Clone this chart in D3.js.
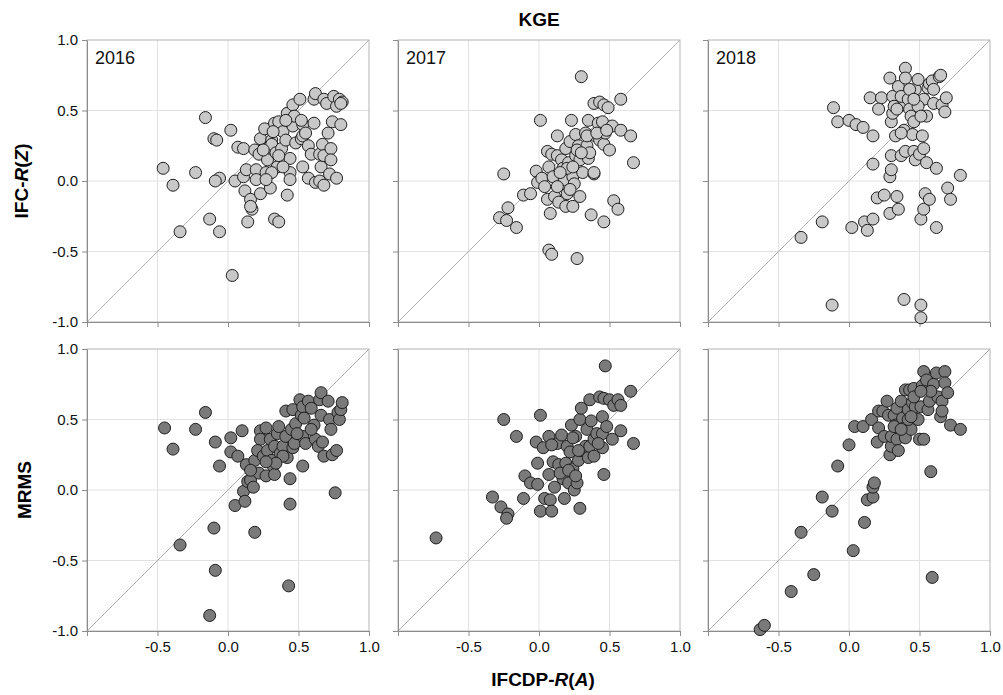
<!DOCTYPE html>
<html>
<head>
<meta charset="utf-8">
<script src="https://cdn.jsdelivr.net/npm/d3@7"></script>
<style>
  body { margin: 0; background: #fff; }
  text { font-family: "Liberation Sans", Arial, sans-serif; }
</style>
</head>
<body>
<script>
// data: one array of [IFCDP-R(A), y] pairs for every panel
var years = ["2016", "2017", "2018"];
var rowTitles = ["IFC-R(Z)", "MRMS"];
var colTitle = "KGE";
var tickValues = [-1, -0.5, 0, 0.5, 1];
var gridValues = [-0.5, 0, 0.5];

var kge2016 = [[-0.46,0.09],[-0.39,-0.03],[-0.34,-0.36],[-0.23,0.06],[-0.16,0.45],[-0.13,-0.27],[-0.10,0.30],[-0.08,0.29],[-0.06,0.02],[-0.09,0.00],[-0.06,-0.36],[0.02,0.36],[0.03,-0.67],[0.05,0.00],[0.07,0.24],[0.11,0.23],[0.11,0.03],[0.12,-0.07],[0.13,0.08],[0.14,-0.29],[0.16,-0.13],[0.17,-0.20],[0.16,-0.18],[0.19,0.22],[0.20,0.08],[0.20,0.01],[0.22,0.19],[0.23,-0.09],[0.23,0.30],[0.26,0.37],[0.27,0.06],[0.28,0.15],[0.29,0.24],[0.30,-0.05],[0.31,0.29],[0.31,0.26],[0.33,0.41],[0.33,-0.27],[0.36,-0.29],[0.36,0.42],[0.34,0.20],[0.35,0.10],[0.38,0.23],[0.39,0.35],[0.41,0.29],[0.42,0.48],[0.42,-0.10],[0.44,0.16],[0.44,0.06],[0.44,0.01],[0.46,0.54],[0.46,0.39],[0.47,0.46],[0.48,0.27],[0.51,0.58],[0.52,0.30],[0.53,0.40],[0.53,0.10],[0.53,0.32],[0.52,0.43],[0.55,0.34],[0.57,0.25],[0.57,0.02],[0.59,0.19],[0.61,0.41],[0.61,0.58],[0.62,0.62],[0.62,-0.01],[0.65,0.00],[0.65,0.19],[0.66,0.10],[0.67,0.26],[0.68,0.58],[0.68,-0.03],[0.68,0.18],[0.70,0.55],[0.71,0.34],[0.72,0.05],[0.73,0.23],[0.73,0.15],[0.74,0.42],[0.75,0.60],[0.77,0.53],[0.77,0.02],[0.79,0.58],[0.80,0.40],[0.81,0.56],[0.80,0.55],[0.36,0.18],[0.32,0.35],[0.41,0.43],[0.25,0.22],[0.39,0.10],[0.31,0.06],[0.27,0.01]];

var kge2017 = [[-0.25,0.05],[-0.22,-0.19],[-0.28,-0.26],[-0.23,-0.28],[-0.16,-0.33],[-0.11,-0.10],[-0.06,-0.09],[-0.02,0.07],[-0.01,-0.01],[0.02,0.02],[0.04,-0.04],[0.01,0.43],[0.06,0.21],[0.07,-0.49],[0.09,-0.52],[0.08,-0.23],[0.06,-0.13],[0.09,0.19],[0.07,0.10],[0.10,0.03],[0.11,-0.11],[0.13,0.32],[0.13,0.18],[0.14,-0.15],[0.16,0.15],[0.17,0.09],[0.18,0.01],[0.19,-0.18],[0.19,0.23],[0.20,-0.09],[0.21,0.13],[0.22,0.28],[0.23,0.43],[0.24,0.03],[0.24,-0.18],[0.25,-0.02],[0.26,0.18],[0.26,0.33],[0.29,-0.11],[0.27,-0.55],[0.28,0.25],[0.29,0.15],[0.30,0.74],[0.31,0.06],[0.33,0.34],[0.34,0.25],[0.35,0.16],[0.35,0.43],[0.36,0.20],[0.37,-0.24],[0.39,0.05],[0.40,0.32],[0.39,0.55],[0.42,0.41],[0.43,0.29],[0.43,0.56],[0.45,0.42],[0.46,-0.29],[0.46,0.26],[0.47,0.34],[0.46,0.54],[0.49,0.52],[0.50,0.22],[0.52,0.39],[0.53,-0.14],[0.56,-0.20],[0.58,0.58],[0.58,0.36],[0.65,0.32],[0.67,0.13],[0.20,0.09],[0.24,0.10],[0.15,0.06],[0.22,-0.06],[0.27,0.22],[0.30,0.20],[0.34,0.32],[0.41,0.34],[0.48,0.36],[0.39,0.06],[0.13,-0.04]];

var kge2018 = [[-0.34,-0.40],[-0.19,-0.29],[-0.12,-0.88],[-0.11,0.52],[-0.08,0.42],[0.00,0.43],[0.05,0.40],[0.10,0.38],[0.17,0.32],[0.02,-0.33],[0.11,-0.29],[0.13,-0.35],[0.17,-0.27],[0.17,0.12],[0.15,0.59],[0.20,-0.12],[0.23,0.59],[0.21,0.51],[0.25,-0.10],[0.29,-0.23],[0.29,0.03],[0.30,0.08],[0.30,0.18],[0.29,0.73],[0.30,0.42],[0.31,0.48],[0.31,0.60],[0.33,0.32],[0.34,-0.11],[0.35,-0.20],[0.35,0.67],[0.36,0.53],[0.37,0.18],[0.37,0.60],[0.39,0.36],[0.40,0.80],[0.39,-0.84],[0.40,0.73],[0.40,0.21],[0.42,0.58],[0.43,0.51],[0.44,0.46],[0.45,0.33],[0.46,0.21],[0.46,0.42],[0.47,0.65],[0.47,0.15],[0.49,0.72],[0.50,0.19],[0.51,-0.27],[0.51,-0.88],[0.51,-0.97],[0.52,0.32],[0.53,0.58],[0.53,-0.20],[0.53,0.23],[0.54,-0.09],[0.55,0.46],[0.56,0.66],[0.57,-0.13],[0.57,0.69],[0.55,0.13],[0.59,0.71],[0.60,0.55],[0.62,0.09],[0.62,-0.33],[0.64,0.74],[0.65,0.75],[0.66,0.54],[0.69,0.59],[0.68,0.49],[0.70,-0.05],[0.72,-0.13],[0.79,0.04],[0.49,0.53],[0.43,0.65],[0.32,0.53],[0.37,0.34],[0.46,0.58],[0.34,0.51],[0.60,0.65],[0.51,0.46]];

var mrms2016 = [[-0.45,0.44],[-0.39,0.29],[-0.34,-0.39],[-0.23,0.43],[-0.16,0.55],[-0.10,-0.27],[-0.09,0.34],[-0.09,-0.57],[-0.06,0.17],[-0.13,-0.89],[0.02,0.37],[0.02,0.27],[0.05,-0.11],[0.07,0.24],[0.10,0.42],[0.11,-0.01],[0.12,-0.08],[0.13,0.18],[0.14,0.06],[0.16,0.07],[0.18,0.02],[0.19,0.21],[0.19,-0.30],[0.22,0.12],[0.23,0.42],[0.23,0.36],[0.21,0.28],[0.25,0.24],[0.27,0.44],[0.27,0.10],[0.28,0.28],[0.30,0.36],[0.31,0.21],[0.32,0.17],[0.33,0.31],[0.33,0.11],[0.35,0.40],[0.36,0.45],[0.37,0.26],[0.39,0.31],[0.41,0.38],[0.41,0.56],[0.42,0.23],[0.44,0.08],[0.44,-0.10],[0.43,-0.68],[0.45,0.43],[0.46,0.30],[0.46,0.57],[0.47,0.33],[0.48,0.47],[0.51,0.64],[0.52,0.53],[0.53,0.59],[0.53,0.17],[0.53,0.38],[0.54,0.51],[0.55,0.33],[0.57,0.63],[0.59,0.58],[0.61,0.46],[0.62,0.36],[0.64,0.31],[0.65,0.64],[0.66,0.69],[0.66,0.53],[0.67,0.34],[0.68,0.24],[0.71,0.63],[0.72,0.50],[0.73,0.43],[0.74,0.25],[0.76,-0.02],[0.77,0.28],[0.78,0.55],[0.79,0.50],[0.80,0.57],[0.81,0.62],[0.39,0.24],[0.49,0.40],[0.59,0.43],[0.34,0.19],[0.27,0.20],[0.16,0.14]];

var mrms2017 = [[-0.73,-0.34],[-0.33,-0.05],[-0.27,-0.12],[-0.22,-0.17],[-0.23,-0.20],[-0.25,0.50],[-0.16,0.38],[-0.11,-0.06],[-0.10,0.10],[-0.06,0.05],[-0.02,0.34],[-0.01,0.19],[-0.01,0.04],[0.01,-0.15],[0.01,0.53],[0.03,0.30],[0.04,-0.06],[0.07,0.38],[0.07,0.11],[0.08,-0.07],[0.09,-0.15],[0.10,0.20],[0.11,0.02],[0.13,0.33],[0.14,0.18],[0.16,0.39],[0.17,0.08],[0.18,-0.06],[0.19,0.19],[0.20,0.31],[0.21,0.05],[0.22,0.27],[0.23,0.46],[0.24,0.15],[0.25,0.00],[0.26,0.38],[0.27,0.05],[0.28,0.21],[0.29,0.50],[0.29,-0.13],[0.30,0.58],[0.30,0.28],[0.33,0.31],[0.34,0.43],[0.35,0.23],[0.36,0.64],[0.36,0.31],[0.37,0.49],[0.39,0.36],[0.41,0.40],[0.43,0.66],[0.45,0.52],[0.45,0.40],[0.46,0.11],[0.45,0.30],[0.46,0.65],[0.47,0.88],[0.48,0.45],[0.50,0.64],[0.52,0.36],[0.53,0.60],[0.56,0.64],[0.58,0.42],[0.58,0.60],[0.65,0.70],[0.67,0.33],[0.15,0.12],[0.21,0.14],[0.26,0.10],[0.28,0.28],[0.39,0.24],[0.42,0.33],[0.24,0.37],[0.09,0.32]];

var mrms2018 = [[-0.63,-0.99],[-0.60,-0.96],[-0.41,-0.72],[-0.34,-0.30],[-0.25,-0.60],[-0.19,-0.05],[-0.12,-0.15],[-0.08,0.17],[0.00,0.32],[0.03,-0.43],[0.04,0.45],[0.10,0.45],[0.11,-0.23],[0.13,-0.07],[0.16,0.50],[0.17,-0.05],[0.17,0.02],[0.18,0.05],[0.21,0.44],[0.20,0.34],[0.21,0.56],[0.24,0.56],[0.25,0.38],[0.27,0.63],[0.28,0.53],[0.29,0.25],[0.30,0.31],[0.30,0.38],[0.32,0.53],[0.33,0.46],[0.34,0.36],[0.35,0.28],[0.34,0.58],[0.37,0.63],[0.38,0.51],[0.39,0.44],[0.40,0.37],[0.40,0.71],[0.42,0.57],[0.43,0.71],[0.44,0.43],[0.45,0.62],[0.46,0.72],[0.47,0.59],[0.49,0.50],[0.50,0.36],[0.51,0.59],[0.52,0.74],[0.53,0.84],[0.53,0.36],[0.55,0.78],[0.56,0.57],[0.57,0.63],[0.58,0.13],[0.59,-0.62],[0.60,0.75],[0.62,0.83],[0.63,0.66],[0.65,0.52],[0.66,0.63],[0.68,0.84],[0.68,0.76],[0.70,0.69],[0.66,0.56],[0.72,0.46],[0.79,0.43],[0.46,0.66],[0.32,0.45],[0.42,0.50],[0.58,0.70],[0.51,0.70],[0.37,0.43],[0.44,0.52]];

var rows = [[kge2016, kge2017, kge2018], [mrms2016, mrms2017, mrms2018]];
var rowFill = ["#c8c8c8", "#7a7a7a"];

var width = 1003;
var height = 695;
var size = 282;                          //panel width and height
var panelLeft = [87, 398, 708];
var panelTop = [40, 349];

var x = d3.scaleLinear().domain([-1, 1]).range([0, size]);
var y = d3.scaleLinear().domain([-1, 1]).range([size, 0]);
var fmt = function (d) { return d.toFixed(1); };

var svg = d3.select("body").append("svg")
    .attr("width", width)
    .attr("height", height);

//one panel for each row / year
function drawPanel(r, c) {
    var g = svg.append("g")
        .attr("transform", "translate(" + panelLeft[c] + "," + panelTop[r] + ")");

    //grid
    g.selectAll(".vgrid").data(gridValues).enter().append("line")
        .attr("x1", function (d) { return x(d); }).attr("x2", function (d) { return x(d); })
        .attr("y1", 0).attr("y2", size)
        .attr("stroke", "#e2e2e2");
    g.selectAll(".hgrid").data(gridValues).enter().append("line")
        .attr("y1", function (d) { return y(d); }).attr("y2", function (d) { return y(d); })
        .attr("x1", 0).attr("x2", size)
        .attr("stroke", "#e2e2e2");

    //frame
    g.append("rect")
        .attr("width", size).attr("height", size)
        .attr("fill", "none").attr("stroke", "#b4b4b4");

    //1:1 line
    g.append("line")
        .attr("x1", x(-1)).attr("y1", y(-1))
        .attr("x2", x(1)).attr("y2", y(1))
        .attr("stroke", "#b0b0b0");

    //axes
    var xAxis = d3.axisBottom(x).tickValues(tickValues).tickSize(5).tickSizeOuter(0).tickPadding(5)
        .tickFormat(function (d) { return (r == 1 && d != -1) ? fmt(d) : ""; });
    var yAxis = d3.axisLeft(y).tickValues(tickValues).tickSize(5).tickSizeOuter(0).tickPadding(4)
        .tickFormat(function (d) { return c == 0 ? fmt(d) : ""; });

    var ax = g.append("g").attr("transform", "translate(0," + size + ")").call(xAxis);
    var ay = g.append("g").call(yAxis);
    [ax, ay].forEach(function (a) {
        a.select(".domain").attr("stroke", "#8c8c8c");
        a.selectAll(".tick line").attr("stroke", "#8c8c8c");
        a.selectAll(".tick text").attr("fill", "#111")
            .style("font-size", "15px")
            .style("font-family", "'Liberation Sans', Arial, sans-serif");
    });

    //year label
    if (r == 0) {
        g.append("text")
            .attr("x", 8).attr("y", 24)
            .attr("font-size", 18)
            .attr("fill", "#111")
            .text(years[c]);
    }

    //points
    g.selectAll(".dataPoint").data(rows[r][c]).enter().append("circle")
        .attr("class", "dataPoint")
        .attr("cx", function (d) { return x(d[0]); })
        .attr("cy", function (d) { return y(d[1]); })
        .attr("r", 6)
        .attr("fill", rowFill[r])
        .attr("stroke", "#1e1e1e")
        .attr("stroke-width", 1);
}

for (var r = 0; r < 2; r++) {
    for (var c = 0; c < 3; c++) {
        drawPanel(r, c);
    }
}

//titles
svg.append("text")
    .attr("x", panelLeft[1] + size / 2).attr("y", 26)
    .attr("text-anchor", "middle")
    .attr("font-size", 19).attr("font-weight", "bold")
    .text(colTitle);

var xTitle = svg.append("text")
    .attr("x", panelLeft[1] + size / 2 + 4).attr("y", 686)
    .attr("text-anchor", "middle")
    .attr("font-size", 19).attr("font-weight", "bold");
xTitle.append("tspan").text("IFCDP-");
xTitle.append("tspan").attr("font-style", "italic").text("R");
xTitle.append("tspan").text("(");
xTitle.append("tspan").attr("font-style", "italic").text("A");
xTitle.append("tspan").text(")");

var yTitle1 = svg.append("text")
    .attr("transform", "translate(28," + (panelTop[0] + size / 2) + ") rotate(-90)")
    .attr("text-anchor", "middle")
    .attr("font-size", 19).attr("font-weight", "bold");
yTitle1.append("tspan").text("IFC-");
yTitle1.append("tspan").attr("font-style", "italic").text("R");
yTitle1.append("tspan").text("(");
yTitle1.append("tspan").attr("font-style", "italic").text("Z");
yTitle1.append("tspan").text(")");

svg.append("text")
    .attr("transform", "translate(31," + (panelTop[1] + size / 2) + ") rotate(-90)")
    .attr("text-anchor", "middle")
    .attr("font-size", 19).attr("font-weight", "bold")
    .text(rowTitles[1]);
</script>
</body>
</html>
